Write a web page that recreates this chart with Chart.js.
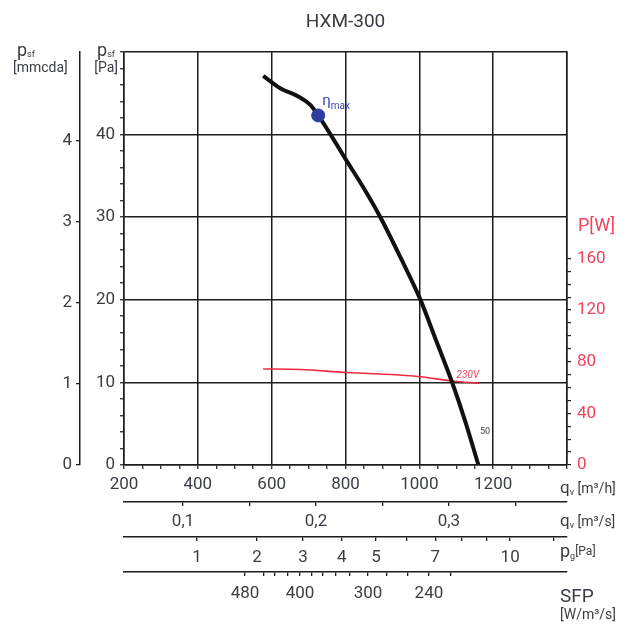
<!DOCTYPE html>
<html>
<head>
<meta charset="utf-8">
<title>HXM-300</title>
<script src="https://cdn.jsdelivr.net/npm/chart.js@4.4.1/dist/chart.umd.min.js"></script>
<style>
  html, body { margin: 0; padding: 0; background: #fff; }
</style>
</head>
<body>
<canvas id="myChart" width="640" height="626"></canvas>
<script>
// HXM-300 fan curve
const qvCurve  = [577, 623, 672, 704, 726, 758, 799, 848, 893, 948, 1002, 1046, 1088, 1125, 1160]; // m3/h
const psfCurve = [47.1, 45.6, 44.6, 43.6, 42.3, 40.1, 37.1, 33.6, 30.1, 25.2, 20.1, 15.0, 10.1, 5.2, 0]; // Pa

// power input, 230V
const qvPower = [577, 677, 803, 893, 1002, 1088, 1162];
const powerW  = [74.4, 74.0, 71.6, 70.5, 68.4, 65.1, 63.3];

// best efficiency point
const etaQv = [726];
const etaPsf = [42.3];

// tick labels
const qvLabels   = [200, 400, 600, 800, 1000, 1200];
const paLabels   = [0, 10, 20, 30, 40];
const mmLabels   = [0, 1, 2, 3, 4];
const wLabels    = [0, 40, 80, 120, 160];
const m3sTicks   = [0.1, 0.15, 0.2, 0.25, 0.3, 0.35];
const m3sLabels  = [0.1, 0.2, 0.3];
const pgTicks    = [1, 2, 3, 4, 5, 6, 7, 8, 9, 10, 12];
const pgLabels   = [1, 2, 3, 4, 5, 7, 10];
const sfpTicks   = [480, 460, 440, 420, 400, 380, 360, 340, 320, 300, 280, 260, 240, 220];
const sfpAtQv    = [528, 577, 609, 642, 677, 707, 739, 772, 810, 861, 912, 969, 1026, 1086]; // where each SFP tick sits on the m3/h scale
const sfpLabels  = [480, 400, 300, 240];

const FONT = 'Roboto, "DejaVu Sans", sans-serif';
const INK = '#3b3d46';
const RED = '#f0435c';
const LINE = '#1c1c1c';

Chart.defaults.font.family = FONT;
Chart.defaults.color = INK;

function steps(from, to, step) {
  const out = [];
  for (let v = from; v <= to + 1e-9; v += step) out.push(+v.toFixed(4));
  return out;
}
const has = (arr, v) => arr.some(a => Math.abs(a - v) < 1e-6);

// small text runs (subscripts etc.)
function run(c, x, y, parts, color) {
  c.fillStyle = color;
  c.textAlign = 'left';
  c.textBaseline = 'alphabetic';
  for (const [txt, size, dy, style] of parts) {
    c.font = (style || '') + ' ' + size + 'px ' + FONT;
    c.fillText(txt, x, y + (dy || 0));
    x += c.measureText(txt).width;
  }
}
function runWidth(c, parts) {
  let w = 0;
  for (const [txt, size, , style] of parts) {
    c.font = (style || '') + ' ' + size + 'px ' + FONT;
    w += c.measureText(txt).width;
  }
  return w;
}

const notes = {
  id: 'notes',
  afterDraw(chart) {
    const c = chart.ctx, s = chart.scales, a = chart.chartArea;
    c.save();
    // left axis headings
    run(c, s.yMm.left + 17, 56, [['p', 18], ['sf', 9, 1]], INK);
    run(c, s.yMm.left + 13, 72, [['[mmcda]', 14]], INK);
    const pHead = [['p', 18], ['sf', 9, 1]];
    run(c, s.y.right - 9 - runWidth(c, pHead), 56, pHead, INK);
    const paHead = [['[Pa]', 14]];
    run(c, s.y.right - 6 - runWidth(c, paHead), 72, paHead, INK);
    // right axis heading
    run(c, s.yW.left + 11, 231, [['P[W]', 18]], RED);
    // bottom scale units
    const ux = a.right - 7;
    run(c, ux, s.x.top + 28, [['q', 17], ['v', 9, 2], [' [m³/h]', 14]], INK);
    run(c, ux, s.xM3s.top + 24, [['q', 17], ['v', 9, 2], [' [m³/s]', 14]], INK);
    run(c, ux, s.xPg.top + 20, [['p', 18], ['g', 9, 2], ['[Pa]', 12, -2]], INK);
    run(c, ux, s.xSfp.top + 30, [['SFP', 19]], INK);
    run(c, ux, s.xSfp.top + 47, [['[W/m³/s]', 14]], INK);
    // curve notes
    const ex = s.x.getPixelForValue(etaQv[0]), ey = s.y.getPixelForValue(etaPsf[0]);
    run(c, ex + 4, ey - 10, [['η', 15], ['max', 10, 4]], '#3d4aa8');
    const lq = qvPower[qvPower.length - 1], lw = powerW[powerW.length - 1];
    const tag = [['230V', 10, 0, 'italic']];
    run(c, s.x.getPixelForValue(lq) - runWidth(c, tag), s.yW.getPixelForValue(lw) - 5, tag, RED);
    run(c, s.x.getPixelForValue(1164), s.y.getPixelForValue(3.7), [['50', 9]], INK);
    c.restore();
  }
};

function bottomAxis(extra) {
  return Object.assign({
    type: 'linear',
    position: 'bottom',
    border: { color: LINE, width: 1.5 },
    grid: { drawOnChartArea: false, color: LINE, tickLength: 4, lineWidth: 1.3 },
  }, extra);
}

const ctx = document.getElementById('myChart');

new Chart(ctx, {
  type: 'line',
  data: {
    datasets: [
      {
        label: 'ηmax',
        data: etaQv.map((q, i) => ({ x: q, y: etaPsf[i] })),
        showLine: false,
        pointRadius: 6.5,
        pointBackgroundColor: '#2d3c9e',
        pointBorderColor: '#2d3c9e',
        xAxisID: 'x', yAxisID: 'y'
      },
      {
        label: 'psf',
        data: qvCurve.map((q, i) => ({ x: q, y: psfCurve[i] })),
        borderColor: '#111',
        borderWidth: 4,
        pointRadius: 0,
        cubicInterpolationMode: 'monotone',
        xAxisID: 'x', yAxisID: 'y'
      },
      {
        label: 'P 230V',
        data: qvPower.map((q, i) => ({ x: q, y: powerW[i] })),
        borderColor: '#ee2a3f',
        borderWidth: 1.6,
        pointRadius: 0,
        cubicInterpolationMode: 'monotone',
        xAxisID: 'x', yAxisID: 'yW'
      }
    ]
  },
  options: {
    responsive: false,
    animation: false,
    layout: { padding: 0 },
    plugins: {
      legend: { display: false },
      tooltip: { enabled: false },
      title: {
        display: true,
        text: 'HXM-300',
        fullSize: false,
        color: INK,
        font: { size: 19, weight: 'normal' },
        padding: { top: 11, bottom: 18 }
      }
    },
    scales: {
      x: {
        type: 'linear', position: 'bottom', weight: 0,
        min: 200, max: 1400,
        afterBuildTicks: s => { s.ticks = steps(200, 1400, 50).map(v => ({ value: v })); },
        ticks: {
          autoSkip: false, maxRotation: 0, padding: 6, color: INK, font: { size: 17 },
          callback: v => has(qvLabels, v) ? String(v) : ''
        },
        grid: {
          color: c => (c.tick && c.tick.value % 200 === 0) ? LINE : 'rgba(0,0,0,0)',
          tickColor: LINE, lineWidth: 1.5, tickLength: 4, tickWidth: 1.2
        },
        border: { color: LINE, width: 1.5 },
        afterFit: s => { s.height = 37; }
      },
      xM3s: bottomAxis({
        weight: 1,
        min: 200 / 3600, max: 1400 / 3600,
        afterBuildTicks: s => { s.ticks = m3sTicks.map(v => ({ value: v })); },
        ticks: {
          autoSkip: false, maxRotation: 0, padding: 6, color: INK, font: { size: 17 },
          callback: v => has(m3sLabels, v) ? v.toFixed(1).replace('.', ',') : ''
        },
        afterFit: s => { s.height = 35; }
      }),
      xPg: bottomAxis({
        weight: 2,
        // dynamic pressure grows with qv², so the scale runs in √pg
        min: 0.496, max: 3.555,
        afterBuildTicks: s => { s.ticks = pgTicks.map(p => ({ value: Math.sqrt(p) })); },
        ticks: {
          autoSkip: false, maxRotation: 0, padding: 7, color: INK, font: { size: 17 },
          callback: (v, i) => pgLabels.includes(pgTicks[i]) ? String(pgTicks[i]) : ''
        },
        afterFit: s => { s.height = 35; }
      }),
      xSfp: bottomAxis({
        weight: 3,
        min: 200, max: 1400,
        afterBuildTicks: s => { s.ticks = sfpAtQv.map(q => ({ value: q })); },
        ticks: {
          autoSkip: false, maxRotation: 0, padding: 8, color: INK, font: { size: 17 },
          callback: (v, i) => sfpLabels.includes(sfpTicks[i]) ? String(sfpTicks[i]) : ''
        },
        afterFit: s => { s.height = 54; }
      }),
      yMm: {
        type: 'linear', position: 'left', weight: 2,
        min: 0, max: 50 / 9.81,
        afterBuildTicks: s => { s.ticks = mmLabels.map(v => ({ value: v })); },
        ticks: { autoSkip: false, padding: 4, color: INK, font: { size: 17 }, callback: v => String(v) },
        grid: { drawOnChartArea: false, color: LINE, tickLength: 4, lineWidth: 1.3 },
        border: { color: LINE, width: 1.5 },
        afterFit: s => { s.width = 80; }
      },
      y: {
        type: 'linear', position: 'left', weight: 1,
        min: 0, max: 50,
        afterBuildTicks: s => { s.ticks = steps(0, 50, 2).map(v => ({ value: v })); },
        ticks: {
          autoSkip: false, padding: 5, color: INK, font: { size: 17 },
          callback: v => has(paLabels, v) ? String(v) : ''
        },
        grid: {
          color: c => (c.tick && c.tick.value % 10 === 0) ? LINE : 'rgba(0,0,0,0)',
          tickColor: LINE, lineWidth: 1.5, tickLength: 4, tickWidth: 1.2
        },
        border: { color: LINE, width: 1.5 },
        afterFit: s => { s.width = 44; }
      },
      yW: {
        type: 'linear', position: 'right',
        min: 0, max: 320,
        afterBuildTicks: s => { s.ticks = steps(0, 160, 10).map(v => ({ value: v })); },
        ticks: {
          autoSkip: false, padding: 6, color: RED, font: { size: 17 },
          callback: v => has(wLabels, v) ? String(v) : ''
        },
        grid: { drawOnChartArea: false, color: LINE, tickLength: 4, lineWidth: 1.2 },
        border: { color: LINE, width: 1.5 },
        afterFit: s => { s.width = 73; }
      }
    }
  },
  plugins: [notes]
});
</script>
</body>
</html>
